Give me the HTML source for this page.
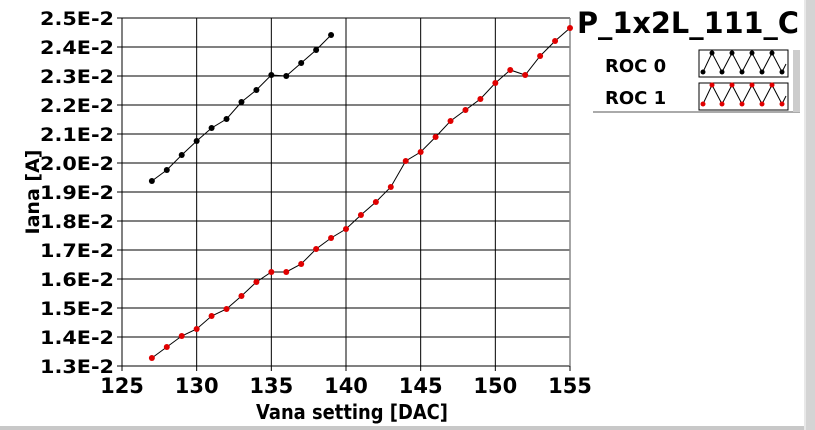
<!DOCTYPE html>
<html><head><meta charset="utf-8"><style>
html,body{margin:0;padding:0;background:#fff;width:815px;height:430px;overflow:hidden}
svg{display:block}
text{font-family:"DejaVu Sans","Liberation Sans",sans-serif;font-weight:bold;fill:#000}
</style></head><body>
<svg id="s" width="815" height="430" xmlns="http://www.w3.org/2000/svg">
<rect x="804" y="0" width="11" height="430" fill="#d4d4d4"/>
<rect x="804" y="0" width="2" height="430" fill="#e8e8e8"/>
<rect x="0" y="426" width="804" height="4" fill="#c8c8c8"/>
<g id="grid"></g>
<text x="688" y="33" font-size="29" text-anchor="middle" textLength="222" lengthAdjust="spacingAndGlyphs">P_1x2L_111_C</text>
<rect x="593" y="49" width="207" height="63" fill="#fff"/>
<line x1="593" y1="112" x2="800" y2="112" stroke="#aaa" stroke-width="2"/>
<rect x="793" y="50" width="7" height="62" fill="#ccc"/>
<text x="605" y="72" font-size="18">ROC 0</text>
<text x="605" y="104" font-size="18">ROC 1</text>
<rect x="699" y="50" width="89" height="27" fill="#fff" stroke="#000"/>
<rect x="699" y="83" width="89" height="27" fill="#fff" stroke="#000"/>
<polyline points="703,72 712,53 722,72 732,53 742,72 752,53 762,72 772,53 782,72 786,64" fill="none" stroke="#000"/>
<polyline points="703,104 712,85 722,104 732,85 742,104 752,85 762,104 772,85 782,104 786,96" fill="none" stroke="#000"/>
<g fill="#000"><circle cx="703" cy="72" r="2.5"/><circle cx="712" cy="53" r="2.5"/><circle cx="722" cy="72" r="2.5"/><circle cx="732" cy="53" r="2.5"/><circle cx="742" cy="72" r="2.5"/><circle cx="752" cy="53" r="2.5"/><circle cx="762" cy="72" r="2.5"/><circle cx="772" cy="53" r="2.5"/><circle cx="782" cy="72" r="2.5"/></g>
<g fill="#e00000"><circle cx="703" cy="104" r="2.5"/><circle cx="712" cy="85" r="2.5"/><circle cx="722" cy="104" r="2.5"/><circle cx="732" cy="85" r="2.5"/><circle cx="742" cy="104" r="2.5"/><circle cx="752" cy="85" r="2.5"/><circle cx="762" cy="104" r="2.5"/><circle cx="772" cy="85" r="2.5"/><circle cx="782" cy="104" r="2.5"/></g>
<text x="352" y="419" font-size="20" text-anchor="middle" textLength="192" lengthAdjust="spacingAndGlyphs">Vana setting [DAC]</text>
<text transform="translate(39,192) rotate(-90)" font-size="19" text-anchor="middle">Iana [A]</text>
<g id="data"></g>
</svg>
<script>
var L=122,R=570,T=18,B=366;
function X(v){return L+(v-125)*(R-L)/30}
var g=document.getElementById("grid"),h="";
for(var i=0;i<=12;i++){var y=T+i*(B-T)/12;h+='<line x1="'+(L-5)+'" y1="'+y+'" x2="'+R+'" y2="'+y+'" stroke="#000"/>';
h+='<text x="114" y="'+(y+7)+'" font-size="19" text-anchor="end" textLength="74" lengthAdjust="spacingAndGlyphs">'+(2.5-i*0.1).toFixed(1)+'E-2</text>';}
for(var v=125;v<=155;v+=5){var x=X(v);h+='<line x1="'+x+'" y1="'+T+'" x2="'+x+'" y2="'+(B+5)+'" stroke="#000"/>';
h+='<text x="'+x+'" y="'+(B+27)+'" font-size="21" text-anchor="middle">'+v+'</text>';}
h+='<line x1="'+R+'" y1="'+T+'" x2="'+R+'" y2="'+B+'" stroke="#888" stroke-width="1.5"/>';
g.innerHTML=h;
var a=[181,170,155,141,128,119,102,90,75,76,63,50,35];
var b=[358,347,336,329,316,309,296,282,272,272,264,249,238,229,215,202,187,161,152,137,121,110,99,83,70,75,56,41,28];
function s(arr,col){var p=arr.map(function(y,i){return X(127+i)+","+y}).join(" ");
var o='<polyline points="'+p+'" fill="none" stroke="#000" stroke-width="1"/>';
arr.forEach(function(y,i){o+='<circle cx="'+X(127+i)+'" cy="'+y+'" r="3" fill="'+col+'"/>'});return o;}
document.getElementById("data").innerHTML=s(a,"#000")+s(b,"#e00000");
</script>
</body></html>
